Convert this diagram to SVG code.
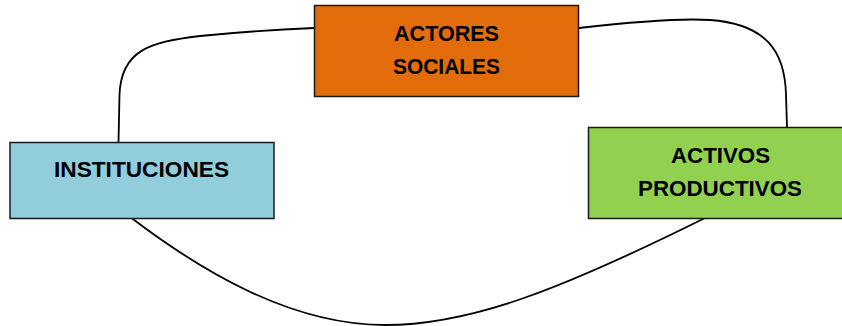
<svg xmlns="http://www.w3.org/2000/svg" width="842" height="326" viewBox="0 0 842 326">
<style>
.box{stroke:#1a1a1a;stroke-width:1.5}
.lbl{font-family:"Liberation Sans",Arial,sans-serif;font-weight:bold;font-size:22px;fill:#000;text-anchor:middle}
.conn{fill:none;stroke:#000;stroke-width:1.8}
</style>
<rect width="842" height="326" fill="#fff"/>
<g id="connectors">
<path class="conn" d="M118.5,142 L119.5,95 C121,50 150,42 200,36 C250,31 290,29 314,28"/>
<path class="conn" d="M579,28 C640,21 680,18 710,20 C765,24 785,50 786,95 L787,127"/>
<path class="conn" d="M131.5,218 C200,270 290,325 385,325 C470,325 560,290 705,218"/>
</g>
<g id="actores">
<rect class="box" x="314.5" y="5.5" width="264" height="91" fill="#E36C0A"/>
<text class="lbl" x="446.5" y="41" textLength="105" lengthAdjust="spacingAndGlyphs">ACTORES</text>
<text class="lbl" x="446.5" y="74" textLength="107" lengthAdjust="spacingAndGlyphs">SOCIALES</text>
</g>
<g id="instituciones">
<rect class="box" x="10" y="142.5" width="264" height="76" fill="#92CDDC"/>
<text class="lbl" x="141.5" y="177" textLength="175" lengthAdjust="spacingAndGlyphs">INSTITUCIONES</text>
</g>
<g id="activos">
<rect class="box" x="588.5" y="127.5" width="260" height="91" fill="#92D050"/>
<text class="lbl" x="720.5" y="163" textLength="99" lengthAdjust="spacingAndGlyphs">ACTIVOS</text>
<text class="lbl" x="720" y="196" textLength="164" lengthAdjust="spacingAndGlyphs">PRODUCTIVOS</text>
</g>
</svg>
